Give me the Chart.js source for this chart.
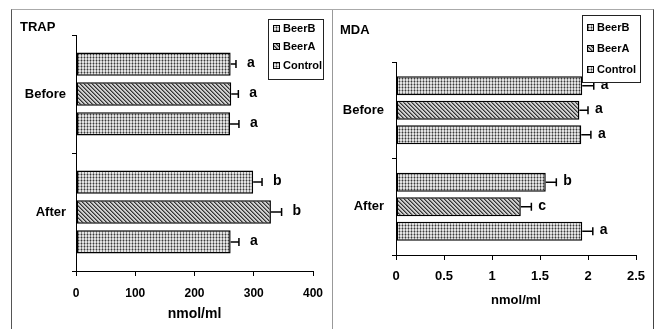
<!DOCTYPE html>
<html>
<head>
<meta charset="utf-8">
<script src="https://cdn.jsdelivr.net/npm/chart.js@4.4.1/dist/chart.umd.min.js"></script>
<style>
  html, body { margin: 0; padding: 0; background: #fff; }
  body { width: 665px; height: 329px; position: relative; overflow: hidden; }
  canvas { position: absolute; top: 0; }
  #c1 { left: 0; }
  #c2 { left: 333px; }
  .frame { position: absolute; top: 9px; height: 330px; box-sizing: border-box; }
  #f1 { left: 11px; width: 322px; border-left: 1px solid #555; border-top: 1px solid #aaa; border-right: 1px solid #999; }
  #f2 { left: 332px; width: 322px; border-top: 1px solid #aaa; border-right: 1px solid #444; }
</style>
</head>
<body>
<div class="frame" id="f1"></div>
<div class="frame" id="f2"></div>
<canvas id="c1" width="333" height="329"></canvas>
<canvas id="c2" width="332" height="329"></canvas>
<script>
// ---- data ----
const categories = ['Before', 'After'];
const seriesNames = ['BeerB', 'BeerA', 'Control'];

const trapBeerB = [261, 299];
const trapBeerA = [262, 329];
const trapControl = [260, 261];
const trapErrBeerB = [9, 15];
const trapErrBeerA = [12, 18];
const trapErrControl = [15, 14];
const trapLetBeerB = ['a', 'b'];
const trapLetBeerA = ['a', 'b'];
const trapLetControl = ['a', 'a'];
const trapTickLabels = ['0', '100', '200', '300', '400'];

const mdaBeerB = [1.94, 1.56];
const mdaBeerA = [1.91, 1.30];
const mdaControl = [1.93, 1.94];
const mdaErrBeerB = [0.12, 0.11];
const mdaErrBeerA = [0.09, 0.11];
const mdaErrControl = [0.10, 0.11];
const mdaLetBeerB = ['a', 'b'];
const mdaLetBeerA = ['a', 'c'];
const mdaLetControl = ['a', 'a'];
const mdaTickLabels = ['0', '0.5', '1', '1.5', '2', '2.5'];

// ---- patterns ----
function dotPattern() {
  const c = document.createElement('canvas');
  c.width = 3; c.height = 3;
  const g = c.getContext('2d');
  g.fillStyle = '#e2e2e2'; g.fillRect(0, 0, 3, 3);
  g.fillStyle = '#8a8a8a'; g.fillRect(0, 0, 1, 3);
  g.fillStyle = '#a8a8a8'; g.fillRect(0, 0, 3, 1);
  g.fillStyle = '#3a3a3a'; g.fillRect(0, 0, 1, 1);
  return g.createPattern(c, 'repeat');
}
function diagPattern() {
  const c = document.createElement('canvas');
  c.width = 4; c.height = 4;
  const g = c.getContext('2d');
  g.fillStyle = '#d0d0d0'; g.fillRect(0, 0, 4, 4);
  for (let i = 0; i < 4; i++) {
    g.fillStyle = '#333'; g.fillRect(i, i, 1, 1);
    g.fillStyle = '#808080'; g.fillRect((i + 1) % 4, i, 1, 1);
  }
  return g.createPattern(c, 'repeat');
}
const patB = dotPattern();
const patA = diagPattern();
const patC = dotPattern();

const FONT = '"Liberation Sans", Arial, sans-serif';
Chart.defaults.font.family = FONT;
Chart.defaults.font.weight = 'bold';
Chart.defaults.font.size = 13;
Chart.defaults.color = '#000';

const decor = {
  id: 'decor',
  afterDatasetsDraw(chart, args, opts) {
    const ctx = chart.ctx;
    const xs = chart.scales.x;
    ctx.save();
    chart.data.datasets.forEach((ds, i) => {
      const meta = chart.getDatasetMeta(i);
      meta.data.forEach((bar, j) => {
        const v = ds.data[j];
        const xe = xs.getPixelForValue(v + ds.errors[j]);
        const y = bar.y;
        ctx.strokeStyle = '#000';
        ctx.lineWidth = 1.5;
        ctx.beginPath();
        ctx.moveTo(bar.x, y); ctx.lineTo(xe, y);
        ctx.moveTo(xe, y - 4); ctx.lineTo(xe, y + 4);
        ctx.stroke();
        ctx.fillStyle = '#000';
        ctx.font = 'bold 14px ' + FONT;
        ctx.textAlign = 'left';
        ctx.textBaseline = 'middle';
        ctx.fillText(ds.letters[j], xe + opts.letterGap, y - 1);
      });
    });
    ctx.restore();
  },
  afterDraw(chart, args, opts) {
    const ctx = chart.ctx;
    ctx.save();
    ctx.fillStyle = '#000';
    ctx.font = 'bold 13px ' + FONT;
    ctx.textAlign = 'left';
    ctx.textBaseline = 'middle';
    ctx.fillText(opts.title, opts.titleX, opts.titleY);
    const b = opts.legend;
    ctx.fillStyle = '#fff';
    ctx.fillRect(b.x, b.y, b.w, b.h);
    ctx.strokeStyle = '#222';
    ctx.lineWidth = 1;
    ctx.strokeRect(b.x + 0.5, b.y + 0.5, b.w, b.h);
    chart.data.datasets.forEach((ds, i) => {
      const cy = b.rows[i];
      ctx.fillStyle = ds.backgroundColor;
      ctx.fillRect(b.x + 5, cy - 4, 7, 7);
      ctx.strokeStyle = '#000';
      ctx.strokeRect(b.x + 5.5, cy - 3.5, 6, 6);
      ctx.fillStyle = '#000';
      ctx.font = 'bold 11px ' + FONT;
      ctx.textAlign = 'left';
      ctx.textBaseline = 'middle';
      ctx.fillText(ds.label, b.x + 15, cy);
    });
    ctx.restore();
  }
};

function makeChart(canvasId, vals, errs, lets, cfg) {
  const pats = [patB, patA, patC];
  return new Chart(document.getElementById(canvasId), {
    type: 'bar',
    data: {
      labels: categories,
      datasets: seriesNames.map((name, i) => ({
        label: name,
        data: vals[i],
        errors: errs[i],
        letters: lets[i],
        backgroundColor: pats[i],
        borderColor: '#000',
        borderWidth: 1.5,
        borderSkipped: false,
        categoryPercentage: 0.76,
        barPercentage: 0.78
      }))
    },
    options: {
      indexAxis: 'y',
      responsive: false,
      animation: false,
      events: [],
      layout: { padding: { left: 0, top: cfg.top, right: cfg.right, bottom: 0 } },
      plugins: {
        legend: { display: false },
        tooltip: { enabled: false },
        decor: { title: cfg.title, titleX: cfg.titleX, titleY: cfg.titleY, legend: cfg.legend, letterGap: cfg.letterGap }
      },
      scales: {
        x: {
          min: 0, max: cfg.max,
          ticks: { stepSize: cfg.step, padding: cfg.xPad, font: { size: cfg.tickSize }, callback: (v, i) => cfg.tickLabels[i] },
          grid: { drawOnChartArea: false, tickLength: 5, color: '#000' },
          border: { display: true, color: '#000', width: 1 },
          title: { display: true, text: 'nmol/ml', font: { size: cfg.axTitleSize, weight: 'bold' }, padding: { top: 0, bottom: cfg.titlePad } },
          afterFit(s) { s.height = cfg.xHeight; s.paddingLeft = 0; s.paddingRight = 0; }
        },
        y: {
          ticks: { padding: cfg.yPad, font: { size: cfg.catSize } },
          grid: { offset: true, drawOnChartArea: false, tickLength: 4, color: '#000' },
          border: { display: true, color: '#000', width: 1 },
          afterFit(s) { s.width = cfg.yWidth; s.paddingTop = 0; s.paddingBottom = 0; }
        }
      }
    },
    plugins: [decor]
  });
}

makeChart('c1',
  [trapBeerB, trapBeerA, trapControl],
  [trapErrBeerB, trapErrBeerA, trapErrControl],
  [trapLetBeerB, trapLetBeerA, trapLetControl],
  { top: 35, right: 20, max: 400, step: 100, tickLabels: trapTickLabels, xHeight: 58, yWidth: 76, yPad: 6, xPad: 10,
    tickSize: 12, catSize: 13, axTitleSize: 14, titlePad: 6,
    title: 'TRAP', titleX: 20, titleY: 27, letterGap: 11,
    legend: { x: 268, y: 19, w: 55, h: 60, rows: [29, 47, 66] } });

makeChart('c2',
  [mdaBeerB, mdaBeerA, mdaControl],
  [mdaErrBeerB, mdaErrBeerA, mdaErrControl],
  [mdaLetBeerB, mdaLetBeerA, mdaLetControl],
  { top: 62, right: 29, max: 2.5, step: 0.5, tickLabels: mdaTickLabels, xHeight: 74, yWidth: 63, yPad: 8, xPad: 9,
    tickSize: 13, catSize: 13, axTitleSize: 13, titlePad: 21,
    title: 'MDA', titleX: 7, titleY: 30, letterGap: 7,
    legend: { x: 249, y: 15, w: 58, h: 67, rows: [28, 49, 70] } });
</script>
</body>
</html>
